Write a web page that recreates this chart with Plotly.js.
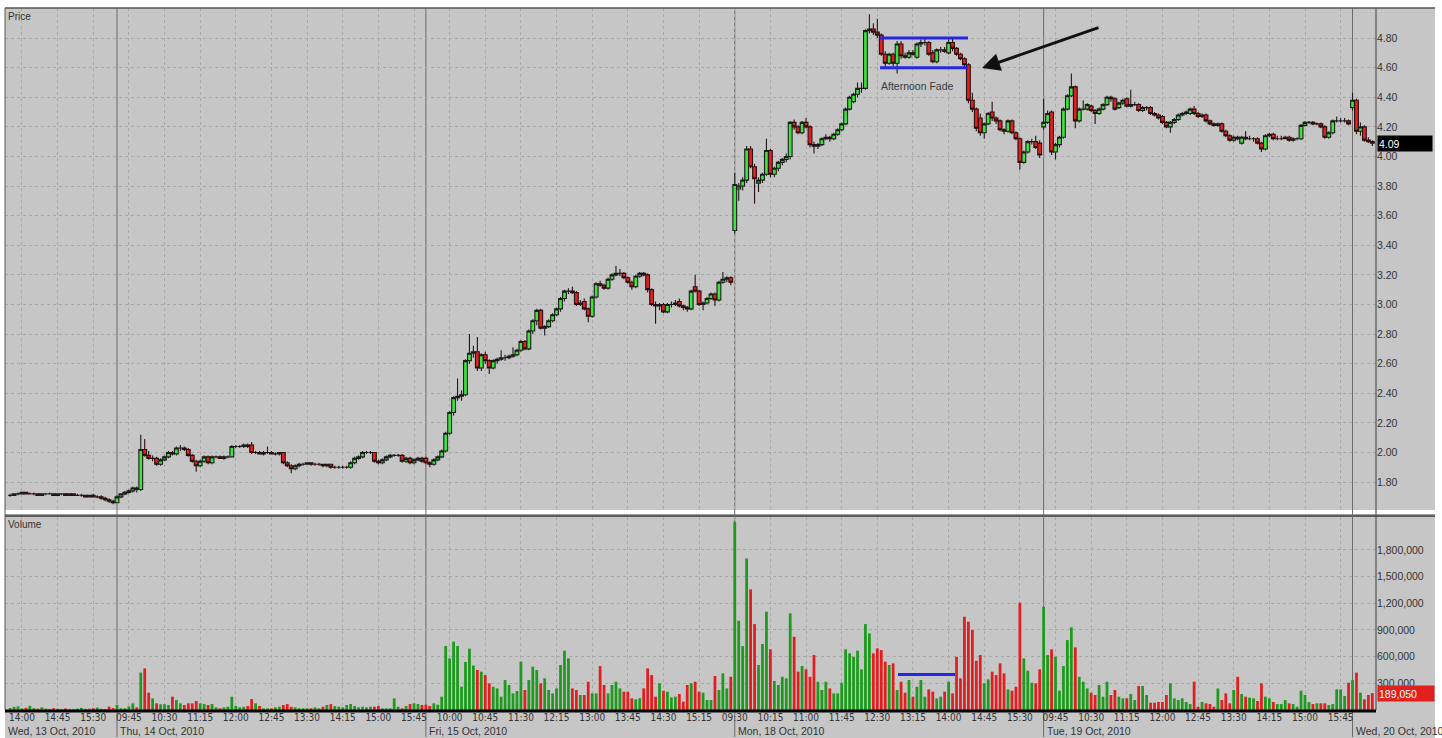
<!DOCTYPE html>
<html>
<head>
<meta charset="utf-8">
<script src="https://cdn.plot.ly/plotly-3.0.1.min.js"></script>
<style>
  html, body { margin: 0; padding: 0; background: #fff; }
  #chart { width: 1442px; height: 738px; }
</style>
</head>
<body>
<div id="chart"></div>
<script>
// 5-minute bars, Wed 13 Oct 13:45 -> Wed 20 Oct 09:55 (one row of 10 bars per line, days split)
const open = [
  1.71,1.71,1.72,1.72,1.73,1.72,1.72,1.72,1.71,1.72,1.72,1.72,1.71,1.72,1.72,1.71,1.72,1.71,1.71,1.71,1.70,1.71,1.70,1.70,1.69,1.68,1.67,
  1.66,1.70,1.72,1.73,1.74,1.76,1.75,2.02,1.98,1.96,
  1.96,1.92,1.95,1.97,2.00,1.99,2.03,2.03,2.02,1.98,
  1.94,1.91,1.94,1.97,1.93,1.97,1.97,1.96,1.97,1.97,
  2.04,2.04,2.04,2.05,2.05,2.00,2.00,1.99,2.00,2.00,
  1.99,1.99,2.00,1.93,1.91,1.89,1.91,1.92,1.92,1.93,
  1.92,1.92,1.92,1.91,1.92,1.90,1.90,1.90,1.90,1.90,
  1.93,1.96,1.97,2.00,2.00,2.00,1.94,1.93,1.95,1.97,
  1.98,1.98,1.98,1.94,1.96,1.93,1.95,1.96,
  1.96,1.93,1.92,1.95,1.97,2.01,2.13,2.27,2.37,2.38,
  2.39,2.62,2.67,2.68,2.57,2.66,2.62,2.57,2.62,2.63,
  2.64,2.64,2.65,2.66,2.69,2.75,2.70,2.82,2.89,2.96,
  2.84,2.85,2.89,2.93,2.97,3.04,3.09,3.09,3.08,3.00,
  3.02,2.97,2.92,3.05,3.14,3.13,3.11,3.17,3.20,3.21,
  3.21,3.18,3.15,3.12,3.19,3.21,3.20,3.10,3.00,2.99,
  3.00,2.95,3.00,3.00,3.02,2.99,2.98,2.97,3.12,3.09,
  3.00,3.01,3.04,3.07,3.03,3.15,3.17,3.18,
  3.50,3.78,3.80,3.84,4.05,3.93,3.82,3.84,3.88,4.04,
  3.88,3.92,3.96,3.98,4.00,4.23,4.20,4.16,4.23,4.20,
  4.08,4.07,4.08,4.12,4.13,4.12,4.15,4.18,4.22,4.32,
  4.37,4.42,4.46,4.46,4.85,4.86,4.84,4.82,4.69,4.63,
  4.69,4.63,4.76,4.68,4.67,4.70,4.67,4.76,4.77,4.77,
  4.70,4.64,4.72,4.72,4.70,4.77,4.73,4.69,4.66,4.62,
  4.38,4.32,4.26,4.16,4.22,4.30,4.26,4.24,4.18,4.17,
  4.24,4.16,4.12,3.96,4.03,4.10,4.10,4.09,
  4.20,4.23,4.30,4.03,4.08,4.13,4.32,4.41,4.47,4.24,
  4.32,4.32,4.34,4.31,4.29,4.32,4.35,4.40,4.39,4.33,
  4.36,4.39,4.34,4.35,4.35,4.31,4.33,4.33,4.29,4.28,
  4.27,4.23,4.20,4.23,4.25,4.28,4.29,4.29,4.32,4.29,
  4.27,4.28,4.24,4.22,4.21,4.22,4.17,4.14,4.11,4.13,
  4.09,4.13,4.12,4.12,4.12,4.09,4.05,4.14,4.15,4.12,
  4.12,4.12,4.13,4.11,4.12,4.12,4.21,4.23,4.23,4.22,
  4.22,4.20,4.13,4.16,4.24,4.24,4.24,4.24,
  4.33,4.38,4.17,4.20,4.11,4.10
];
const high = [
  1.72,1.72,1.73,1.73,1.73,1.73,1.73,1.72,1.72,1.72,1.73,1.72,1.72,1.72,1.72,1.72,1.72,1.72,1.72,1.71,1.71,1.72,1.71,1.71,1.70,1.69,1.68,
  1.71,1.72,1.74,1.75,1.77,1.77,2.12,2.09,2.01,1.98,
  1.97,1.96,1.98,2.01,2.01,2.04,2.05,2.04,2.03,1.99,
  1.95,1.95,1.98,1.98,1.98,1.98,1.98,1.98,1.98,2.05,
  2.05,2.05,2.06,2.06,2.07,2.01,2.01,2.01,2.04,2.01,
  2.00,2.00,2.00,1.94,1.92,1.92,1.93,1.93,1.93,1.93,
  1.93,1.93,1.92,1.92,1.92,1.91,1.91,1.91,1.91,1.94,
  1.97,1.98,2.01,2.01,2.01,2.00,1.95,1.96,1.98,1.99,
  1.99,1.99,1.99,1.97,1.97,1.96,1.97,1.97,
  1.97,1.94,1.96,1.98,2.02,2.14,2.28,2.38,2.50,2.42,
  2.63,2.80,2.72,2.78,2.67,2.68,2.63,2.63,2.64,2.69,
  2.66,2.66,2.71,2.70,2.76,2.76,2.83,2.90,2.97,2.97,
  2.86,2.90,2.94,2.98,3.05,3.10,3.11,3.12,3.09,3.03,
  3.04,2.98,3.06,3.15,3.16,3.14,3.18,3.21,3.26,3.24,
  3.22,3.19,3.16,3.20,3.22,3.22,3.21,3.11,3.02,3.01,
  3.01,3.01,3.02,3.03,3.04,3.00,2.99,3.10,3.20,3.10,
  3.02,3.05,3.08,3.08,3.16,3.22,3.19,3.19,
  3.89,3.82,3.86,4.07,4.07,3.95,3.86,3.89,4.12,4.05,
  3.93,3.97,3.99,4.02,4.24,4.25,4.21,4.24,4.26,4.21,
  4.10,4.09,4.13,4.15,4.14,4.16,4.19,4.23,4.33,4.41,
  4.43,4.50,4.50,4.86,4.96,4.90,4.93,4.83,4.71,4.70,
  4.70,4.78,4.78,4.70,4.72,4.72,4.77,4.79,4.80,4.78,
  4.72,4.73,4.74,4.74,4.79,4.80,4.74,4.70,4.67,4.63,
  4.43,4.33,4.29,4.23,4.30,4.37,4.27,4.25,4.19,4.25,
  4.25,4.17,4.13,4.04,4.11,4.12,4.14,4.11,
  4.39,4.31,4.31,4.09,4.14,4.33,4.42,4.56,4.48,4.33,
  4.38,4.36,4.35,4.32,4.33,4.36,4.41,4.41,4.40,4.37,
  4.39,4.40,4.45,4.37,4.36,4.34,4.34,4.34,4.30,4.29,
  4.28,4.24,4.24,4.26,4.29,4.30,4.31,4.33,4.34,4.30,
  4.29,4.29,4.25,4.23,4.23,4.23,4.18,4.15,4.14,4.14,
  4.14,4.17,4.14,4.13,4.13,4.10,4.15,4.16,4.16,4.14,
  4.14,4.14,4.14,4.13,4.13,4.22,4.24,4.24,4.24,4.23,
  4.23,4.21,4.17,4.25,4.27,4.26,4.26,4.25,
  4.43,4.39,4.23,4.21,4.13,4.11
];
const low = [
  1.70,1.71,1.71,1.72,1.72,1.72,1.71,1.71,1.71,1.71,1.72,1.71,1.71,1.71,1.71,1.71,1.71,1.71,1.70,1.70,1.70,1.70,1.69,1.68,1.67,1.66,1.65,
  1.66,1.69,1.71,1.72,1.73,1.73,1.74,1.97,1.95,1.94,
  1.91,1.91,1.94,1.96,1.98,1.98,2.01,2.01,1.97,1.93,
  1.87,1.90,1.93,1.92,1.92,1.96,1.96,1.95,1.96,1.97,
  2.03,2.03,2.03,2.03,1.99,1.99,1.99,1.98,1.99,1.99,
  1.98,1.98,1.92,1.90,1.86,1.88,1.90,1.91,1.92,1.91,
  1.91,1.91,1.90,1.90,1.89,1.89,1.89,1.89,1.89,1.89,
  1.92,1.95,1.96,1.99,1.99,1.93,1.92,1.92,1.94,1.96,
  1.97,1.97,1.93,1.93,1.92,1.92,1.94,1.93,
  1.92,1.90,1.91,1.94,1.96,2.00,2.12,2.25,2.35,2.35,
  2.38,2.60,2.64,2.55,2.55,2.60,2.53,2.56,2.60,2.62,
  2.62,2.63,2.64,2.65,2.68,2.69,2.69,2.80,2.86,2.83,
  2.79,2.84,2.88,2.92,2.95,3.02,3.07,3.07,2.99,2.99,
  2.96,2.88,2.91,3.04,3.12,3.10,3.10,3.16,3.19,3.19,
  3.17,3.14,3.10,3.11,3.18,3.19,3.08,2.99,2.87,2.96,
  2.94,2.94,2.98,2.99,2.98,2.96,2.95,2.96,3.08,2.99,
  2.96,3.00,3.03,2.99,3.02,3.14,3.15,3.13,
  3.48,3.70,3.77,3.82,3.92,3.68,3.76,3.82,3.87,3.86,
  3.86,3.90,3.94,3.96,3.98,4.18,4.15,4.15,4.19,4.06,
  4.02,4.05,4.07,4.11,4.10,4.11,4.14,4.17,4.21,4.31,
  4.36,4.40,4.43,4.45,4.83,4.82,4.80,4.68,4.60,4.62,
  4.61,4.56,4.66,4.66,4.66,4.68,4.66,4.74,4.75,4.68,
  4.63,4.63,4.70,4.70,4.69,4.71,4.68,4.65,4.60,4.36,
  4.30,4.17,4.14,4.12,4.21,4.24,4.22,4.17,4.15,4.16,
  4.15,4.11,3.91,3.95,4.02,4.08,4.05,3.99,
  4.18,4.22,4.01,3.98,4.06,4.12,4.31,4.40,4.19,4.23,
  4.31,4.31,4.30,4.22,4.28,4.31,4.34,4.37,4.31,4.32,
  4.35,4.33,4.33,4.34,4.30,4.30,4.31,4.28,4.27,4.25,
  4.22,4.19,4.16,4.22,4.24,4.27,4.28,4.28,4.28,4.26,
  4.26,4.23,4.21,4.20,4.20,4.16,4.13,4.10,4.10,4.11,
  4.08,4.11,4.11,4.10,4.08,4.03,4.04,4.13,4.11,4.11,
  4.11,4.12,4.10,4.10,4.11,4.11,4.20,4.22,4.21,4.21,
  4.19,4.12,4.12,4.15,4.23,4.23,4.23,4.21,
  4.31,4.15,4.14,4.10,4.09,4.07
];
const close = [
  1.71,1.72,1.72,1.73,1.72,1.72,1.72,1.71,1.72,1.72,1.72,1.71,1.72,1.72,1.71,1.72,1.71,1.71,1.71,1.70,1.71,1.70,1.70,1.69,1.68,1.67,1.66,
  1.70,1.72,1.73,1.74,1.76,1.75,2.02,1.98,1.96,1.96,
  1.92,1.95,1.97,2.00,1.99,2.03,2.03,2.02,1.98,1.94,
  1.91,1.94,1.97,1.93,1.97,1.97,1.96,1.97,1.97,2.04,
  2.04,2.04,2.05,2.04,2.00,2.00,1.99,2.00,2.00,1.99,
  1.99,2.00,1.93,1.91,1.89,1.91,1.92,1.92,1.93,1.92,
  1.92,1.92,1.91,1.92,1.90,1.90,1.90,1.90,1.90,1.93,
  1.96,1.97,2.00,2.00,2.00,1.94,1.93,1.95,1.97,1.98,
  1.98,1.98,1.94,1.96,1.93,1.95,1.96,1.94,
  1.93,1.92,1.95,1.97,2.01,2.13,2.27,2.37,2.38,2.39,
  2.62,2.67,2.68,2.57,2.66,2.62,2.57,2.62,2.63,2.64,
  2.64,2.65,2.66,2.69,2.75,2.70,2.82,2.89,2.96,2.84,
  2.85,2.89,2.93,2.97,3.04,3.09,3.09,3.08,3.00,3.01,
  2.97,2.92,3.05,3.14,3.13,3.11,3.17,3.20,3.21,3.21,
  3.18,3.15,3.12,3.19,3.21,3.20,3.10,3.00,2.99,3.00,
  2.95,3.00,3.00,3.01,2.99,2.98,2.97,3.09,3.09,3.00,
  3.01,3.04,3.07,3.03,3.15,3.17,3.18,3.15,
  3.81,3.80,3.84,4.05,3.93,3.85,3.84,3.88,4.04,3.88,
  3.92,3.96,3.98,4.00,4.23,4.20,4.16,4.23,4.20,4.08,
  4.07,4.08,4.12,4.13,4.12,4.15,4.18,4.22,4.32,4.40,
  4.42,4.46,4.46,4.85,4.86,4.84,4.82,4.69,4.63,4.69,
  4.63,4.76,4.68,4.67,4.70,4.69,4.76,4.77,4.77,4.69,
  4.64,4.72,4.72,4.71,4.77,4.73,4.69,4.66,4.62,4.38,
  4.32,4.19,4.16,4.22,4.29,4.26,4.24,4.18,4.17,4.24,
  4.16,4.12,3.96,4.03,4.10,4.10,4.06,4.01,
  4.23,4.29,4.03,4.08,4.13,4.32,4.41,4.47,4.24,4.32,
  4.32,4.35,4.31,4.29,4.32,4.35,4.40,4.39,4.32,4.36,
  4.38,4.34,4.35,4.35,4.31,4.33,4.33,4.29,4.28,4.26,
  4.23,4.20,4.23,4.25,4.28,4.29,4.30,4.32,4.29,4.27,
  4.28,4.24,4.22,4.21,4.22,4.17,4.14,4.11,4.13,4.12,
  4.13,4.12,4.12,4.12,4.09,4.05,4.14,4.15,4.12,4.12,
  4.12,4.13,4.11,4.12,4.12,4.21,4.23,4.23,4.22,4.22,
  4.20,4.13,4.16,4.24,4.24,4.24,4.24,4.22,
  4.38,4.17,4.20,4.11,4.10,4.09
];
const volume = [
  22000,35000,41000,18000,25000,47000,20000,15000,30000,16000,12000,20000,14000,10000,18000,12000,9000,16000,25000,12000,15000,20000,28000,14000,10000,38000,22000,
  56000,20000,20000,40000,75000,30000,420000,468000,195000,131000,
  75000,64000,64000,56000,150000,112000,75000,56000,75000,75000,
  101000,75000,67000,56000,67000,30000,19000,30000,37000,150000,
  45000,30000,37000,45000,124000,75000,45000,19000,19000,19000,
  30000,37000,56000,67000,37000,30000,19000,19000,19000,19000,
  30000,19000,37000,56000,67000,45000,37000,30000,56000,67000,
  45000,30000,37000,30000,37000,37000,45000,19000,19000,19000,
  131000,37000,19000,45000,67000,75000,67000,56000,
  60000,45000,75000,60000,150000,720000,580000,768000,720000,262000,
  540000,690000,500000,450000,431000,393000,300000,262000,243000,150000,
  337000,281000,187000,213000,543000,225000,337000,487000,449000,300000,
  356000,225000,187000,243000,506000,667000,580000,243000,225000,169000,
  169000,318000,187000,187000,494000,281000,187000,281000,318000,243000,
  206000,206000,131000,120000,131000,243000,468000,393000,150000,300000,
  217000,206000,142000,150000,180000,94000,281000,300000,318000,206000,
  195000,112000,112000,382000,225000,412000,243000,374000,
  2116000,1004000,719000,1704000,1356000,966000,506000,742000,1105000,682000,
  326000,281000,374000,356000,1086000,824000,431000,494000,457000,374000,
  618000,318000,225000,318000,243000,187000,187000,307000,682000,637000,
  599000,667000,457000,966000,861000,637000,693000,674000,543000,506000,
  524000,225000,318000,195000,337000,150000,262000,337000,150000,232000,
  206000,131000,150000,206000,318000,187000,599000,356000,1049000,992000,
  899000,554000,618000,300000,344000,431000,393000,524000,412000,232000,
  217000,262000,1206000,580000,442000,307000,300000,457000,
  1161000,618000,682000,599000,217000,494000,786000,929000,704000,374000,
  318000,243000,195000,169000,281000,150000,318000,169000,225000,150000,
  131000,131000,180000,112000,270000,270000,169000,82000,82000,90000,
  90000,169000,300000,131000,112000,131000,90000,67000,318000,37000,
  90000,75000,67000,37000,243000,112000,187000,75000,225000,374000,
  180000,150000,139000,131000,101000,300000,150000,131000,90000,67000,
  67000,112000,75000,67000,37000,217000,169000,90000,67000,75000,
  75000,75000,56000,67000,232000,232000,157000,307000,
  337000,420000,195000,120000,169000,189050
];

// axis labels
const timeLabels = ['14:00','14:45','15:30','09:45','10:30','11:15','12:00','12:45','13:30','14:15','15:00','15:45',
  '10:00','10:45','11:30','12:15','13:00','13:45','14:30','15:15',
  '09:30','10:15','11:00','11:45','12:30','13:15','14:00','14:45','15:30',
  '09:45','10:30','11:15','12:00','12:45','13:30','14:15','15:00','15:45'];
const dateLabels = ['Wed, 13 Oct, 2010','Thu, 14 Oct, 2010','Fri, 15 Oct, 2010','Mon, 18 Oct, 2010','Tue, 19 Oct, 2010','Wed, 20 Oct, 2010'];
const dayStart = [0, 27, 105, 183, 261, 339];
const priceTicks = [1.8,2.0,2.2,2.4,2.6,2.8,3.0,3.2,3.4,3.6,3.8,4.0,4.2,4.4,4.6,4.8];
const volTicks = [300000,600000,900000,1200000,1500000,1800000];
const volTickText = ['300,000','600,000','900,000','1,200,000','1,500,000','1,800,000'];

// pixel helpers (plot area: x 5..1376, y 8..710)
const px2x = px => (px - 5) / 1371;
const py2y = py => (710 - py) / 702;
const idxAt = px => 27 + (px - 117) / 3.96;

const xs = close.map((_, i) => i);
const tickVals = timeLabels.map((_, k) => 3 + 9 * k);
const GREEN = '#3ce43c', RED = '#de2121';
const VGREEN = '#1f9a1f', VRED = '#e02020';
const volColors = close.map((c, i) => c >= open[i] ? VGREEN : VRED);

const candles = {
    type: 'candlestick',
    x: xs, open: open, high: high, low: low, close: close,
    xaxis: 'x2', yaxis: 'y',
    increasing: { fillcolor: GREEN, line: { color: '#1c1c1c', width: 1.1 } },
    decreasing: { fillcolor: RED, line: { color: '#2a1010', width: 1.1 } },
    whiskerwidth: 0,
    hoverinfo: 'skip',
    showlegend: false
};

const volBars = {
    type: 'bar',
    x: xs, y: volume,
    xaxis: 'x', yaxis: 'y2',
    marker: { color: volColors, line: { width: 0 } },
    hoverinfo: 'skip',
    showlegend: false
};

const gridStyle = { showgrid: true, gridcolor: '#a9a9a9', griddash: 'dot', gridwidth: 1, zeroline: false };
const xRange = [idxAt(5), idxAt(1376)];
const tickFont = { family: 'Liberation Sans Narrow, DejaVu Sans Condensed, Liberation Sans, sans-serif', size: 10, color: '#333' };

const shapes = [
    // grey canvas behind both panels and the label strips
    { type: 'rect', xref: 'paper', yref: 'paper', x0: 0, x1: px2x(1435), y0: py2y(738), y1: 1,
      fillcolor: '#c6c6c6', line: { width: 0 }, layer: 'below' },
    // white gap + dark border between panels
    { type: 'rect', xref: 'paper', yref: 'paper', x0: px2x(0), x1: px2x(1442), y0: py2y(514.5), y1: py2y(510),
      fillcolor: '#ffffff', line: { width: 0 }, layer: 'below' },
    { type: 'rect', xref: 'paper', yref: 'paper', x0: 0, x1: px2x(1435), y0: py2y(517), y1: py2y(514.5),
      fillcolor: '#5c5c5c', line: { width: 0 }, layer: 'below' },
    // frame lines
    { type: 'line', xref: 'paper', yref: 'paper', x0: 0, x1: px2x(1435), y0: 1, y1: 1, line: { color: '#555', width: 1.5 } },
    { type: 'line', xref: 'paper', yref: 'paper', x0: 0, x1: 0, y0: 0, y1: 1, line: { color: '#555', width: 1 } },
    { type: 'line', xref: 'paper', yref: 'paper', x0: 1, x1: 1, y0: 0, y1: 1, line: { color: '#555', width: 1.2 } },
    { type: 'line', xref: 'paper', yref: 'paper', x0: 0, x1: 1, y0: py2y(711), y1: py2y(711), line: { color: '#000', width: 3 } }
];
// day separators
dayStart.slice(1).forEach(d => {
    shapes.push({ type: 'line', xref: 'x', yref: 'paper', x0: d, x1: d, y0: py2y(737), y1: 1,
                  line: { color: '#6a6a6a', width: 1 }, layer: 'below' });
});
// "Afternoon Fade" range marks
shapes.push(
    { type: 'line', xref: 'x2', yref: 'y', x0: idxAt(880), x1: idxAt(968), y0: 4.80, y1: 4.80, line: { color: '#2626e8', width: 3 } },
    { type: 'line', xref: 'x2', yref: 'y', x0: idxAt(880), x1: idxAt(968), y0: 4.60, y1: 4.60, line: { color: '#2626e8', width: 3 } },
    { type: 'line', xref: 'x', yref: 'y2', x0: idxAt(898), x1: idxAt(955), y0: 400000, y1: 400000, line: { color: '#2626e8', width: 3 } }
);

const annotations = [
    { xref: 'paper', yref: 'paper', x: px2x(6), y: py2y(16), xanchor: 'left', yanchor: 'middle',
      text: 'Price', showarrow: false, font: { size: 10, color: '#333' } },
    { xref: 'paper', yref: 'paper', x: px2x(6), y: py2y(524), xanchor: 'left', yanchor: 'middle',
      text: 'Volume', showarrow: false, font: { size: 10, color: '#333' } },
    { xref: 'x2', yref: 'y', x: idxAt(879), y: 4.475, xanchor: 'left', yanchor: 'middle',
      text: 'Afternoon Fade', showarrow: false, font: { size: 10.5, color: '#3a3a3a' } },
    { xref: 'x2', yref: 'y', x: idxAt(982), y: 4.597, text: '', showarrow: true,
      ax: 118, ay: -41, arrowhead: 2, arrowsize: 1.2, arrowwidth: 3, arrowcolor: '#111', standoff: 0 },
    { xref: 'paper', yref: 'y', x: px2x(1377), y: close[close.length - 1], xanchor: 'left', yanchor: 'middle',
      text: close[close.length - 1].toFixed(2), showarrow: false, bgcolor: '#000', width: 52, height: 13, borderpad: 1,
      align: 'left', font: { size: 10.5, color: '#fff' } },
    { xref: 'paper', yref: 'y2', x: px2x(1377), y: volume[volume.length - 1], xanchor: 'left', yanchor: 'middle',
      text: volume[volume.length - 1].toLocaleString('en-US'), showarrow: false, bgcolor: '#e0211d', width: 54, height: 13, borderpad: 1,
      align: 'left', font: { size: 10.5, color: '#fff' } }
];
dateLabels.forEach((t, k) => {
    annotations.push({ xref: 'x', yref: 'paper', x: k === 0 ? idxAt(6) : dayStart[k] + 0.3, y: py2y(731),
                       xanchor: 'left', yanchor: 'middle', text: t, showarrow: false,
                       font: { size: 10.5, color: '#333' } });
});

const layout = {
    width: 1442, height: 738,
    margin: { l: 5, r: 66, t: 8, b: 28, pad: 0 },
    paper_bgcolor: '#ffffff',
    plot_bgcolor: '#c6c6c6',
    font: { family: 'Liberation Sans, Arial, sans-serif', size: 10.5, color: '#333' },
    showlegend: false,
    boxgap: 0.04, boxgroupgap: 0,
    bargap: 0.3,
    xaxis: Object.assign({
        domain: [0, 1], anchor: 'y2', range: xRange, type: 'linear',
        tickvals: tickVals, ticktext: timeLabels, ticks: '', tickfont: tickFont,
        showline: false, rangeslider: { visible: false }, fixedrange: true
    }, gridStyle),
    xaxis2: Object.assign({
        domain: [0, 1], anchor: 'y', range: xRange, type: 'linear',
        tickvals: tickVals, showticklabels: false, ticks: '',
        showline: false, rangeslider: { visible: false }, fixedrange: true
    }, gridStyle),
    yaxis: Object.assign({
        domain: [py2y(510), 1], anchor: 'x2', side: 'right', range: [1.611, 5.003],
        tickvals: priceTicks, tickformat: '.2f', ticks: '', showline: false,
        tickfont: { size: 10.5, color: '#333' }, fixedrange: true
    }, gridStyle),
    yaxis2: Object.assign({
        domain: [0, py2y(517)], anchor: 'x', side: 'right', range: [0, 2170000],
        tickvals: volTicks, ticktext: volTickText, ticks: '', showline: false,
        tickfont: { size: 10.5, color: '#333' }, fixedrange: true
    }, gridStyle),
    shapes: shapes,
    annotations: annotations
};

Plotly.newPlot('chart', [volBars, candles], layout, { staticPlot: true, displayModeBar: false });
</script>
</body>
</html>
